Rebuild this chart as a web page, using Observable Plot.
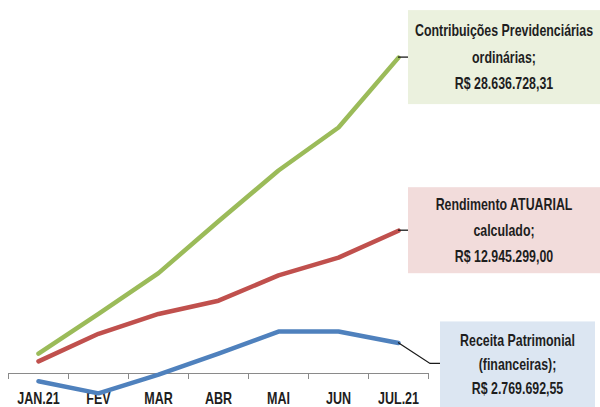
<!DOCTYPE html>
<html><head><meta charset="utf-8">
<script src="https://cdn.jsdelivr.net/npm/d3@7"></script>
<script src="https://cdn.jsdelivr.net/npm/@observablehq/plot@0.6"></script>
<style>
html,body{margin:0;padding:0;background:#fff;}
#chart svg{display:block;}
</style></head><body><div id="chart"></div>
<script>
// ---- data ----
const months = ["JAN.21","FEV","MAR","ABR","MAI","JUN","JUL.21"];
const contribuicoes = [1800000, 5400000, 9100000, 13800000, 18400000, 22300000, 28636728.31];
const rendimento    = [1100000, 3600000, 5400000, 6600000, 8900000, 10500000, 12945299.00];
const receita       = [-700000, -1800000, -100000, 1800000, 3800000, 3800000, 2769692.55];
const seriesNames = ["Contribuições Previdenciárias ordinárias", "Rendimento ATUARIAL calculado", "Receita Patrimonial (financeiras)"];
const labelLines = [
  ["Contribuições Previdenciárias", "ordinárias;", "R$ 28.636.728,31"],
  ["Rendimento ATUARIAL", "calculado;", "R$ 12.945.299,00"],
  ["Receita Patrimonial", "(financeiras);", "R$ 2.769.692,55"]
];

// ---- styles ----
const FONT = '"Liberation Sans", Arial, sans-serif';
const AXIS_NARROW = 0.76;  // horizontal condensing, emulating a narrow face
const LABEL_NARROW = 0.75;
const colors = ["#9bbb59", "#c0504d", "#4f81bd"];
const boxFills = ["#ebf1de", "#f2dcdb", "#dce6f2"];
const annoStyle = [
  {dx: 10, dy: -47, w: 192, h: 94, lineH: 26.5, conn: [[0,0],[10,0]]},
  {dx: 10, dy: -43, w: 192, h: 86, lineH: 26, conn: [[0,0],[10,0]]},
  {dx: 42, dy: -21, w: 155, h: 86, lineH: 24, conn: [[0,0],[32,21],[42,21]]}
];

const allSeries = [contribuicoes, rendimento, receita];
const rows = allSeries.flatMap((vals, s) => vals.map((v, i) => ({month: months[i], value: v, series: seriesNames[s]})));

const plot = Plot.plot({
  width: 600, height: 407,
  marginLeft: 8, marginRight: 172, marginTop: 20, marginBottom: 34,
  x: {type: "band", domain: months, padding: 0, tickSize: 0, tickPadding: 19, label: null},
  y: {domain: [0, 32000000], axis: null},
  color: {domain: seriesNames, range: colors},
  style: {fontFamily: FONT, fontSize: "16.5px", fontWeight: "bold", color: "#1e1e1e", background: "white", overflow: "visible"},
  marks: [
    Plot.ruleY([0], {stroke: "#8a8a8a", strokeWidth: 1}),
    Plot.ruleX(months, {x: d => d, y1: 0, y2: 0, insetBottom: -6, dx: -30, stroke: "#8a8a8a"}),
    Plot.ruleX([months[months.length - 1]], {x: d => d, y1: 0, y2: 0, insetBottom: -6, dx: 30, stroke: "#8a8a8a"}),
    Plot.lineY(rows, {x: "month", y: "value", z: "series", stroke: "series", strokeWidth: 4.5, strokeLinecap: "round", strokeLinejoin: "round"})
  ]
});
document.getElementById("chart").appendChild(plot);

const svg = d3.select(plot);
// condense the axis labels horizontally (keep Plot's own placement)
svg.selectAll('g[aria-label^="x-axis"] text').each(function() {
  const t = this.getAttribute("transform") || "";
  this.setAttribute("transform", (t + ` scale(${AXIS_NARROW},1)`).trim());
});

// ---- annotations (anchored to the last point via the plot's scales) ----
const sx = plot.scale("x"), sy = plot.scale("y");
const bx = d3.scaleBand(sx.domain, sx.range).round(!!sx.round);
const ly = d3.scaleLinear(sy.domain, sy.range);
const g = svg.append("g").attr("class", "annotations");
allSeries.forEach((vals, s) => {
  const last = vals.length - 1;
  const ax = bx(months[last]) + bx.bandwidth() / 2;
  const ay = ly(vals[last]);
  const st = annoStyle[s];
  g.append("path")
    .attr("d", d3.line()(st.conn.map(([px, py]) => [ax + px, ay + py])))
    .attr("fill", "none").attr("stroke", "#1a1a1a").attr("stroke-width", 1.3);
  const left = ax + st.dx, top = ay + st.dy;
  g.append("rect").attr("x", left).attr("y", top).attr("width", st.w).attr("height", st.h).attr("fill", boxFills[s]);
  const cx = left + st.w / 2, cy = top + st.h / 2;
  const lines = labelLines[s];
  lines.forEach((t, i) => {
    g.append("text")
      .attr("transform", `translate(${cx},${cy + (i - (lines.length - 1) / 2) * st.lineH}) scale(${LABEL_NARROW},1)`)
      .attr("dy", "0.35em").attr("text-anchor", "middle")
      .attr("font-family", FONT).attr("font-size", 16.5).attr("font-weight", "bold")
      .attr("fill", "#1e1e1e").text(t);
  });
});
</script>
</body></html>
